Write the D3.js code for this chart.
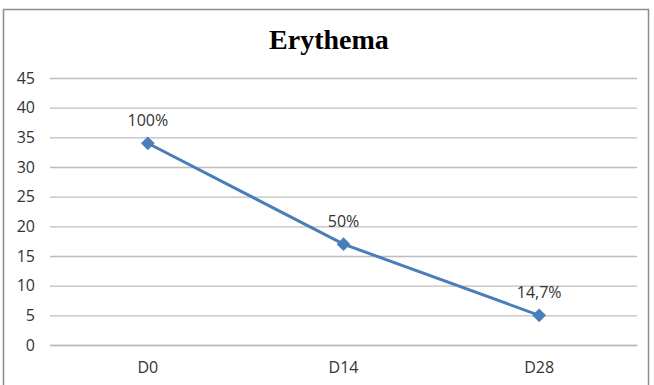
<!DOCTYPE html>
<html><head><meta charset="utf-8">
<script src="https://cdn.jsdelivr.net/npm/d3@7"></script>
<style>html,body{margin:0;padding:0;background:#fff}svg{display:block}</style>
</head><body>
<script>
const categories = ["D0", "D14", "D28"];
const values = [34, 17, 5];
const pointLabels = ["100%", "50%", "14,7%"];
const yTicks = [0, 5, 10, 15, 20, 25, 30, 35, 40, 45];
const title = "Erythema";

const W = 654, H = 385;
const svg = d3.select("body").append("svg").attr("width", W).attr("height", H);
svg.append("rect").attr("x", 3.5).attr("y", 9.5).attr("width", 645).attr("height", 385)
  .attr("fill", "#fff").attr("stroke", "#8c8c8c").attr("stroke-width", 1.5);

const m = {left: 50, right: 637, top: 78, bottom: 345};
const x = d3.scaleBand().domain(categories).range([m.left, m.right]);
const y = d3.scaleLinear().domain([0, 45]).range([m.bottom, m.top]);

svg.append("text").attr("x", 329).attr("y", 49).attr("text-anchor", "middle")
  .attr("font-family", "Liberation Serif, serif").attr("font-weight", "bold")
  .attr("font-size", 28).attr("fill", "#000").text(title);

const gy = svg.append("g").attr("transform", `translate(${m.left},0)`)
  .call(d3.axisLeft(y).tickValues(yTicks).tickSize(-(m.right - m.left)).tickPadding(15));
gy.select(".domain").remove();
gy.selectAll(".tick line").attr("stroke", "#bdbdbd").attr("stroke-width", 1.3);
gy.selectAll(".tick text").attr("font-family", "Open Sans, sans-serif").attr("font-size", 16).attr("fill", "#333");

const gx = svg.append("g").attr("transform", `translate(0,${m.bottom})`)
  .call(d3.axisBottom(x).tickSize(0));
gx.select(".domain").attr("stroke", "#bdbdbd").attr("stroke-width", 1.3);
gx.selectAll(".tick text").attr("y", 28).attr("dy", 0)
  .attr("font-family", "Open Sans, sans-serif").attr("font-size", 16).attr("fill", "#333");

const cx = d => x(d) + x.bandwidth() / 2;
const data = categories.map((c, i) => ({c, v: values[i], l: pointLabels[i]}));

svg.append("path").datum(data)
  .attr("d", d3.line().x(d => cx(d.c)).y(d => y(d.v)))
  .attr("fill", "none").attr("stroke", "#4a7ebb").attr("stroke-width", 3);

svg.selectAll(".mk").data(data).enter().append("path")
  .attr("transform", d => `translate(${cx(d.c)},${y(d.v)})`)
  .attr("d", d3.symbol().type(d3.symbolDiamond2).size(120))
  .attr("fill", "#4a7ebb");

svg.selectAll(".lb").data(data).enter().append("text")
  .attr("x", d => cx(d.c)).attr("y", d => y(d.v) - 17)
  .attr("text-anchor", "middle").attr("font-family", "Open Sans, sans-serif")
  .attr("font-size", 16).attr("fill", "#333").text(d => d.l);
</script>
</body></html>
